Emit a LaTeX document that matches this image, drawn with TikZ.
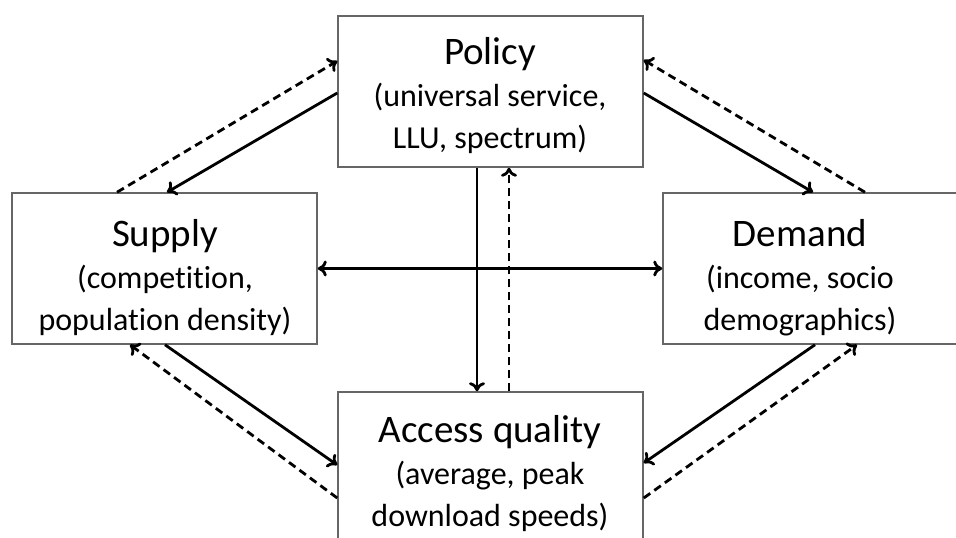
\documentclass[tikz,border=0pt]{standalone}
\usepackage{fontspec}
\setmainfont{Carlito}[Ligatures=CommonOff]
\usetikzlibrary{arrows.meta}

\begin{document}
\begin{tikzpicture}[x=1pt, y=-1pt,
  box/.style={draw=black!60, line width=1.5pt, minimum width=305pt, minimum height=151pt, inner sep=0pt},
  lbl/.style={align=center, font=\fontsize{32}{42}\selectfont},
  flow/.style={line width=2.8pt, -{To[length=9pt,width=16pt]}},
  back/.style={flow, dash pattern=on 8pt off 5pt},
  both/.style={line width=2.8pt, {To[length=9pt,width=16pt]}-{To[length=9pt,width=16pt]}}]

\useasboundingbox (0,0) rectangle (956,538);

%─────────────
% Boxes
%─────────────
\node[box] (policy) at (490.5,91.5)  {};
\node[box] (supply) at (164.5,268.5) {};
\node[box] (demand) at (815.5,268.5) {};
\node[box] (access) at (490.5,467.5) {};

%─────────────
% Labels
%─────────────
\node[lbl] (policytxt) at (490,96)  {{\fontsize{39}{42}\selectfont Policy}\\(universal service,\\LLU, spectrum)};
\node[lbl] (supplytxt) at (165,278) {{\fontsize{39}{42}\selectfont Supply}\\(competition,\\population density)};
\node[lbl] (demandtxt) at (800,278) {{\fontsize{39}{42}\selectfont Demand}\\(income, socio\\demographics)};
\node[lbl] (accesstxt) at (490,474) {{\fontsize{39}{42}\selectfont Access quality}\\(average, peak\\download speeds)};

%─────────────
% Policy <-> Supply, Demand
%─────────────
\draw[back] ([xshift=-47.5pt]supply.north) -- ([yshift=30.5pt]policy.west);
\draw[flow] ([yshift=-1.5pt]policy.west) -- ([xshift=2.5pt]supply.north);
\draw[flow] ([yshift=-1.5pt]policy.east) -- ([xshift=-2.5pt]demand.north);
\draw[back] ([xshift=49.5pt]demand.north) -- ([yshift=31.5pt]policy.east);

%─────────────
% Access <-> Supply, Demand
%─────────────
\draw[flow] ([xshift=0.5pt]supply.south) -- ([yshift=2.5pt]access.west);
\draw[back] ([yshift=-30.5pt]access.west) -- ([xshift=-34.5pt]supply.south);
\draw[flow] ([xshift=-0.5pt]demand.south) -- ([yshift=4.5pt]access.east);
\draw[back] ([yshift=-30.5pt]access.east) -- ([xshift=41.5pt]demand.south);

%─────────────
% Policy <-> Access, Supply <-> Demand
%─────────────
\draw[flow] ([xshift=-13.5pt]policy.south) -- ([xshift=-13.5pt]access.north);
\draw[back] ([xshift=18.5pt]access.north) -- ([xshift=18.5pt]policy.south);
\draw[both] (supply.east) -- (demand.west);

\end{tikzpicture}
\end{document}
